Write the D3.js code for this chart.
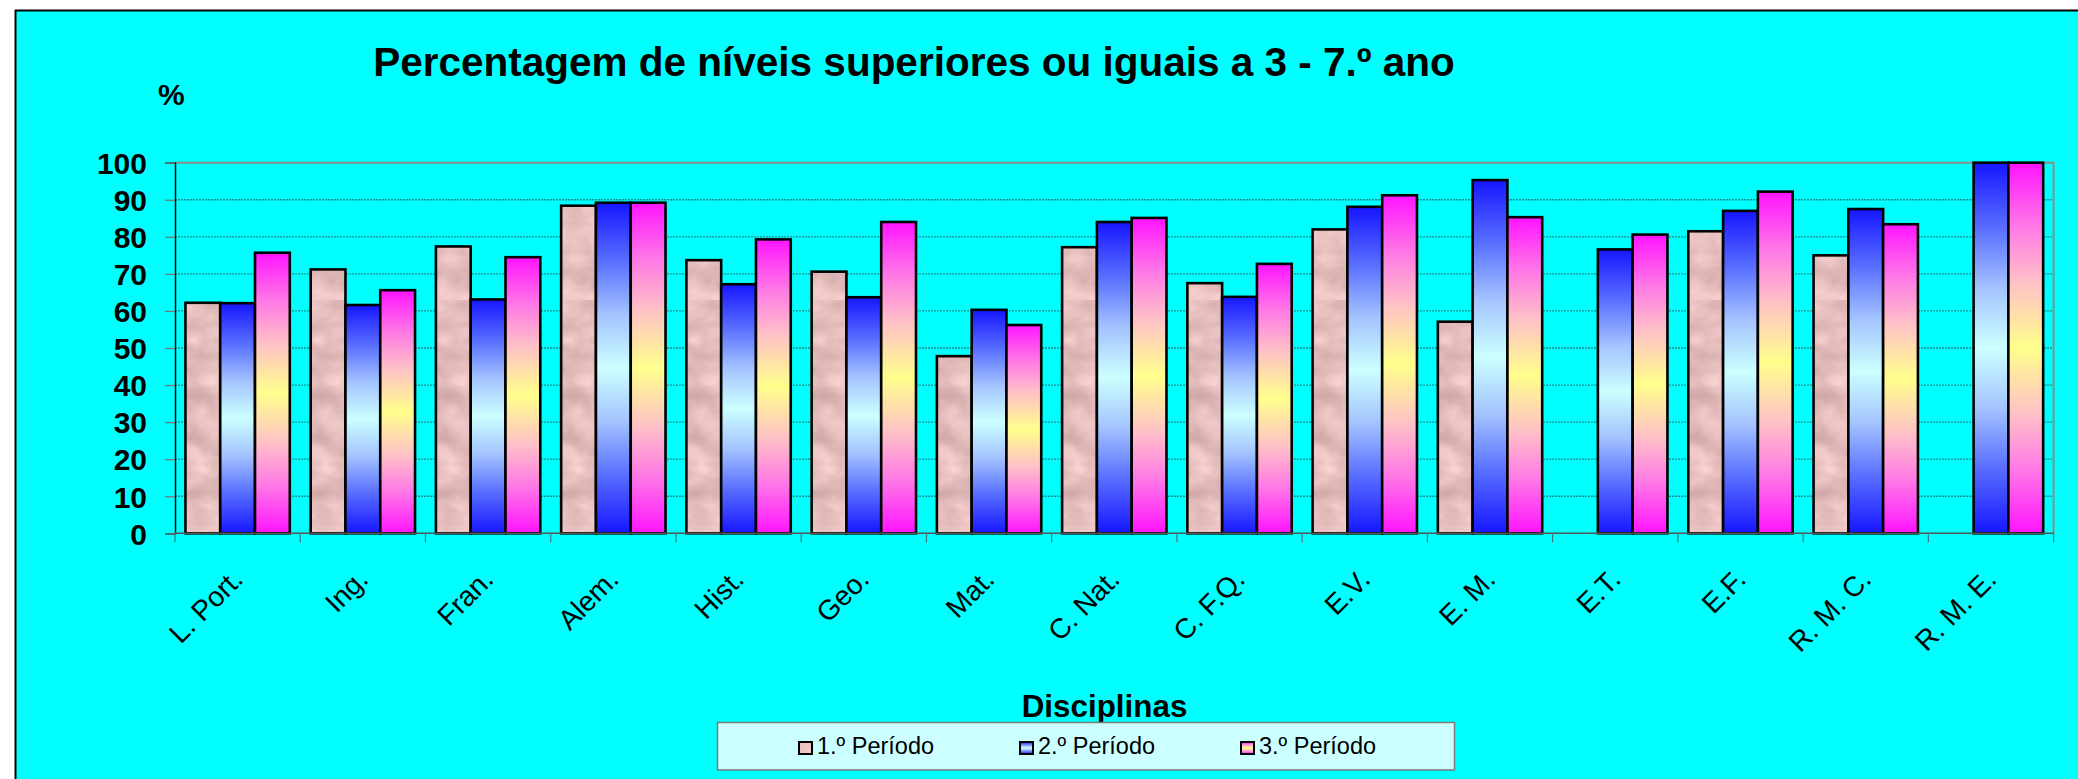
<!DOCTYPE html>
<html>
<head>
<meta charset="utf-8">
<script src="https://cdnjs.cloudflare.com/ajax/libs/d3/7.8.5/d3.min.js"></script>
<style>
  html, body { margin:0; padding:0; background:#fff; }
  svg { display:block; font-family:"Liberation Sans", Arial, sans-serif; }
</style>
</head>
<body>
<svg id="chart" width="2078" height="779"></svg>
<script>
// data
const categories = ['L. Port.','Ing.','Fran.','Alem.','Hist.','Geo.','Mat.','C. Nat.','C. F.Q.','E.V.','E. M.','E.T.','E.F.','R. M. C.','R. M. E.'];
const seriesNames = ['1.º Período','2.º Período','3.º Período'];
const periodo1 = [62.2, 71.2, 77.4, 88.4, 73.7, 70.6, 47.8, 77.2, 67.5, 82.0, 57.1, null, 81.5, 75.0, null];
const periodo2 = [62.1, 61.6, 63.1, 89.2, 67.2, 63.7, 60.3, 84.0, 63.8, 88.1, 95.3, 76.6, 87.0, 87.5, 100];
const periodo3 = [75.7, 65.6, 74.5, 89.2, 79.3, 84.0, 56.2, 85.1, 72.7, 91.2, 85.3, 80.6, 92.2, 83.4, 100];
const yTicks = [0,10,20,30,40,50,60,70,80,90,100];

const seriesValues = [periodo1, periodo2, periodo3];
const fills = ['url(#marble)','url(#gradBlue)','url(#gradRainbow)'];

const svg = d3.select('#chart');
const W = 2078, H = 779;
const plot = {left:175, right:2053.6, top:162.7, bottom:533.3};

// defs: pink marble texture + the two gradients
const defs = svg.append('defs');
const f = defs.append('filter').attr('id','marbleF').attr('x',0).attr('y',0).attr('width',1).attr('height',1)
  .attr('color-interpolation-filters','sRGB');
f.append('feTurbulence').attr('type','fractalNoise').attr('baseFrequency','0.03 0.045').attr('numOctaves',3).attr('seed',4).attr('result','noise');
f.append('feColorMatrix').attr('in','noise').attr('type','matrix')
  .attr('values','0.25 0 0 0 0.78  0.25 0 0 0 0.62  0.25 0 0 0 0.62  0 0 0 0 1');
defs.append('pattern').attr('id','marble').attr('patternUnits','userSpaceOnUse').attr('width',300).attr('height',300)
  .append('rect').attr('width',300).attr('height',300).attr('fill','#e6c0c0').attr('filter','url(#marbleF)');

function vGrad(id, stops){
  const g = defs.append('linearGradient').attr('id',id).attr('x1',0).attr('y1',0).attr('x2',0).attr('y2',1);
  stops.forEach(s => g.append('stop').attr('offset',s[0]).attr('stop-color',s[1]));
}
vGrad('gradBlue', [[0,'#1616ff'],[0.18,'#5a70ff'],[0.34,'#a4c4ff'],[0.5,'#ccffff'],[0.66,'#a4c4ff'],[0.82,'#5a70ff'],[1,'#1616ff']]);
vGrad('gradRainbow', [[0,'#ff14ff'],[0.17,'#ff78e6'],[0.32,'#ffc0c8'],[0.5,'#ffff8c'],[0.68,'#ffc0c8'],[0.83,'#ff78e6'],[1,'#ff14ff']]);

// background / chart area
svg.append('rect').attr('width',W).attr('height',H).attr('fill','#fff');
svg.append('rect').attr('x',15).attr('y',10).attr('width',W-15).attr('height',H-10).attr('fill','#00ffff');
svg.append('line').attr('x1',15.5).attr('x2',15.5).attr('y1',10).attr('y2',H).attr('stroke','#000').attr('stroke-width',2);
svg.append('line').attr('x1',15).attr('x2',W).attr('y1',10.5).attr('y2',10.5).attr('stroke','#000').attr('stroke-width',2);

// scales
const x0 = d3.scaleBand().domain(categories).range([plot.left, plot.right]).padding(0);
const x1 = d3.scaleBand().domain(d3.range(3)).range([0, x0.bandwidth()]).paddingInner(0).paddingOuter(0.3);
const y = d3.scaleLinear().domain([0,100]).range([plot.bottom, plot.top]);

// gridlines
svg.append('g').selectAll('line').data(yTicks.filter(t => t>0 && t<100)).join('line')
  .attr('x1',plot.left).attr('x2',plot.right).attr('y1',d=>y(d)).attr('y2',d=>y(d))
  .attr('stroke','#1f8f8f').attr('stroke-width',1.3).attr('stroke-dasharray','2,1');

// plot area border (top and right)
svg.append('path').attr('d',`M${plot.left},${y(100)}H${plot.right}V${plot.bottom}`)
  .attr('fill','none').attr('stroke','#8c8c8c').attr('stroke-width',2);

// y axis
const yAxis = svg.append('g').attr('transform',`translate(${plot.left},0)`)
  .call(d3.axisLeft(y).tickValues(yTicks).tickSize(10).tickPadding(18).tickFormat(d3.format('d')));
yAxis.select('.domain').attr('stroke','#000').attr('stroke-width',1.5);
yAxis.selectAll('.tick line').attr('stroke','#777').attr('stroke-width',1.3);
yAxis.selectAll('.tick text').attr('font-size',30).attr('font-weight','bold').attr('fill','#000')
  .attr('font-family','"Liberation Sans", Arial, sans-serif').attr('dy','0.36em');

// bars
const groups = svg.append('g').selectAll('g').data(categories).join('g')
  .attr('transform', d => `translate(${x0(d)},0)`);
groups.selectAll('rect')
  .data((c,i) => seriesValues.map((s,k) => ({k, v:s[i]})).filter(d => d.v != null))
  .join('rect')
  .attr('x', d => x1(d.k)).attr('width', x1.bandwidth())
  .attr('y', d => y(d.v)).attr('height', d => y(0) - y(d.v))
  .attr('fill', d => fills[d.k]).attr('stroke','#000').attr('stroke-width',2.6);

// x axis line and tick marks at category boundaries
svg.append('line').attr('x1',plot.left).attr('x2',plot.right).attr('y1',plot.bottom).attr('y2',plot.bottom)
  .attr('stroke','#555').attr('stroke-width',1.5);
const bounds = categories.map(c => x0(c)).concat([plot.right]);
svg.append('g').selectAll('line').data(bounds).join('line')
  .attr('x1',d=>d).attr('x2',d=>d).attr('y1',plot.bottom).attr('y2',plot.bottom+9)
  .attr('stroke','#3a7a7a').attr('stroke-width',1.2);

// category labels
svg.append('g').selectAll('text').data(categories).join('text')
  .attr('transform', d => `translate(${x0(d)+x0.bandwidth()/2+7},${581}) rotate(-45)`)
  .attr('text-anchor','end').attr('font-size',28).attr('fill','#000')
  .text(d => d);

// titles
svg.append('text').attr('x',914).attr('y',76).attr('text-anchor','middle')
  .attr('font-size',40.5).attr('font-weight','bold').text('Percentagem de níveis superiores ou iguais a 3 - 7.º ano');
svg.append('text').attr('x',158).attr('y',105).attr('font-size',30).attr('font-weight','bold').text('%');
svg.append('text').attr('x',1104.5).attr('y',717).attr('text-anchor','middle')
  .attr('font-size',31.4).attr('font-weight','bold').text('Disciplinas');

// legend
const leg = svg.append('g');
leg.append('rect').attr('x',717.5).attr('y',722.5).attr('width',737).attr('height',47.5)
  .attr('fill','#ccffff').attr('stroke','#7a7a7a').attr('stroke-width',1.5);
const item = leg.selectAll('g').data(seriesNames).join('g')
  .attr('transform',(d,i) => `translate(${799 + i*221},0)`);
item.append('rect').attr('x',0).attr('y',742).attr('width',13).attr('height',12)
  .attr('fill',(d,i) => fills[i]).attr('stroke','#000').attr('stroke-width',2);
item.append('text').attr('x',18).attr('y',754).attr('font-size',23.5).attr('fill','#000').text(d => d);
</script>
</body>
</html>
